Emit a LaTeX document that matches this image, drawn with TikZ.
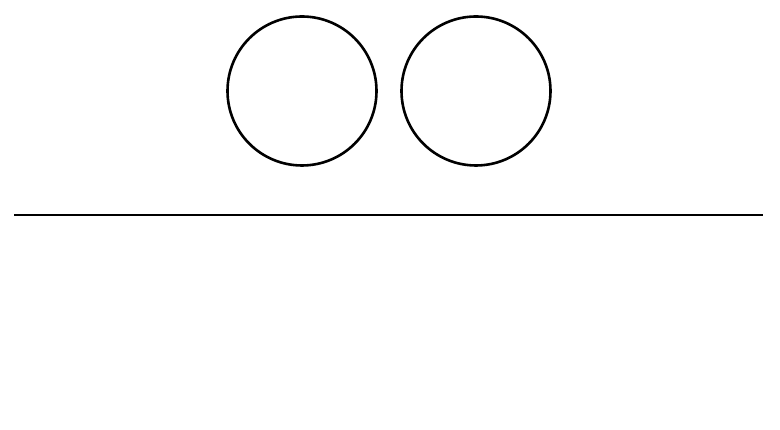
\documentclass[tikz,border=0pt]{standalone}
\begin{document}
\begin{tikzpicture}[x=1pt,y=1pt,
  ring/.style={circle, draw=black, line width=2.6pt, minimum size=149pt, inner sep=0pt},
  floorline/.style={draw=black, line width=2.6pt}]
\useasboundingbox (0,0) rectangle (780,430);
\node[ring] (c1) at (302,339) {};
\node[ring] (c2) at (476,339) {};
\coordinate (l1) at (14,215);
\coordinate (l2) at (763,215);
\draw[floorline] (l1) -- (l2);
\end{tikzpicture}
\end{document}
